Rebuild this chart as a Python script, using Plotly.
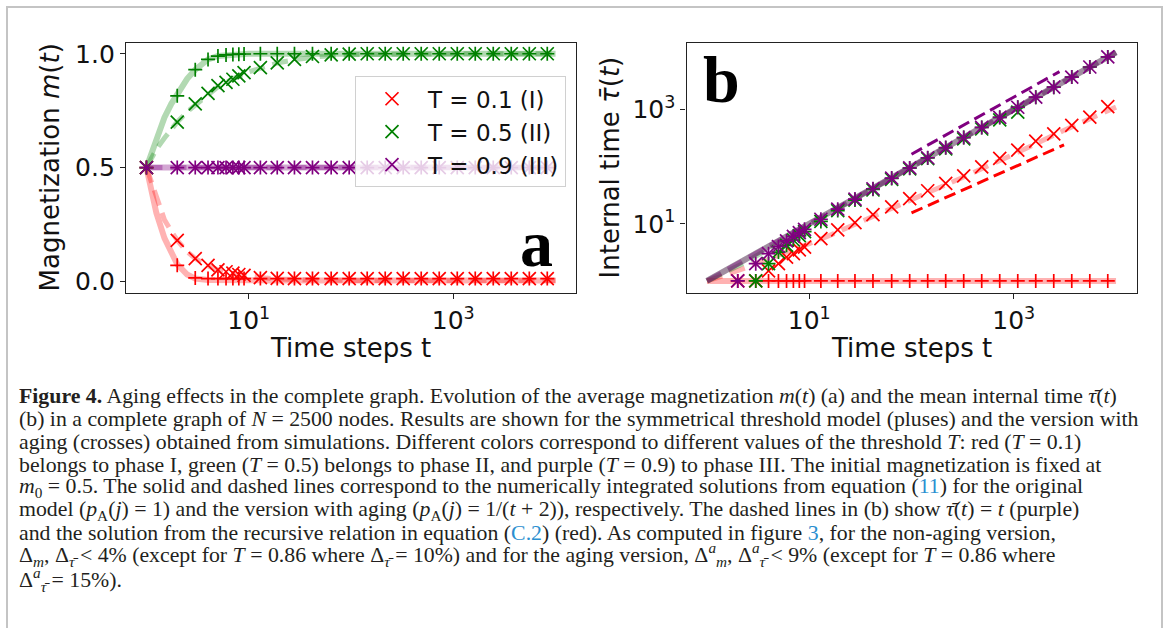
import plotly.graph_objects as go

W, H = 1167, 628

# ---------------- data ----------------
t_pts = [1, 2, 3, 4, 5, 6, 7, 8, 9, 13, 19, 28, 42, 64, 96, 144, 216, 324, 486,
         729, 1094, 1640, 2460, 3690, 5540, 8300]

# panel a: magnetization (simulations)
red_plus_a = [0.5, 0.07, 0.015, 0.012, 0.012, 0.012, 0.012, 0.012, 0.012, 0.012, 0.012, 0.012, 0.012,
              0.012, 0.012, 0.012, 0.012, 0.012, 0.012, 0.012, 0.012, 0.012, 0.012, 0.012, 0.012, 0.012]
red_cross_a = [0.5, 0.18, 0.10, 0.07, 0.05, 0.042, 0.036, 0.03, 0.026, 0.016, 0.013, 0.012, 0.012,
               0.012, 0.012, 0.012, 0.012, 0.012, 0.012, 0.012, 0.012, 0.012, 0.012, 0.012, 0.012, 0.012]
green_plus_a = [0.5, 0.815, 0.93, 0.975, 0.99, 0.995, 0.997, 0.998, 0.999, 1.0, 1.0, 1.0, 1.0,
                1.0, 1.0, 1.0, 1.0, 1.0, 1.0, 1.0, 1.0, 1.0, 1.0, 1.0, 1.0, 1.0]
green_cross_a = [0.5, 0.70, 0.78, 0.826, 0.86, 0.874, 0.888, 0.903, 0.917, 0.939, 0.96, 0.975, 0.988,
                 0.995, 0.998, 1.0, 1.0, 1.0, 1.0, 1.0, 1.0, 1.0, 1.0, 1.0, 1.0, 1.0]
purple_plus_a = [0.5, 0.5, 0.5, 0.5, 0.5, 0.5, 0.5, 0.5, 0.5, 0.5, 0.5, 0.5, 0.5,
                 0.5, 0.5, 0.5, 0.5, 0.5, 0.5, 0.5, 0.5, 0.5, 0.5, 0.5, 0.5, 0.5]
purple_cross_a = [0.5, 0.5, 0.5, 0.5, 0.5, 0.5, 0.5, 0.5, 0.5, 0.5, 0.5, 0.5, 0.5,
                  0.5, 0.5, 0.5, 0.5, 0.5, 0.5, 0.5, 0.5, 0.5, 0.5, 0.5, 0.5, 0.5]

# panel b: internal time (simulations)
red_plus_b = [None, 1, 1, 1, 1, 1, 1, 1, 1, 1, 1, 1, 1, 1, 1, 1, 1, 1, 1, 1, 1, 1, 1, 1, 1, 1]
red_cross_b = [None, 1, 1, 1.5, 2.0, 2.6, 3.0, 3.5, 3.9, 5.5, 7.8, 10.5, 14.5, 19.8, 27.5, 37.8,
               51, 69, 99, 139, 195, 280, 375, 525, 735, 1120]
green_plus_b = [None, None, 1, 2, 3.2, 4.2, 5.2, 6.2, 7.3, 11, 17, 26, 40, 62, 94, 142, 214, 322,
                484, 727, 1092, 1638, 2458, 3688, 5538, 8298]
green_cross_b = [None, None, 1, 2, 3.2, 4.2, 5.2, 6.2, 7.3, 11, 17, 26, 39, 60, 91, 138, 205, 305,
                 455, 660, 900, None, None, None, None, None]
purple_plus_b = [None, 1, 2, 3, 4, 5, 6, 7, 8, 12, 18, 27, 41, 63, 95, 143, 215, 323, 485, 728,
                 1093, 1639, 2459, 3689, 5539, 8299]
purple_cross_b = [None, 1, 2, 3, 4, 5, 6, 7, 8, 12, 18, 27, 41, 63, 95, 143, 215, 323, 485, 728,
                  1093, 1639, 2459, 3689, 5539, 8299]

# theory curves (numerical integration), solid = original, dashed = aging
t_line = [1, 1.25, 1.5, 1.75, 2, 2.5, 3, 4, 5, 7, 10, 15, 20, 30, 50, 100, 300, 1000, 3000, 10000]
red_solid_a = [0.5, 0.30, 0.19, 0.12, 0.075, 0.03, 0.012, 0.006, 0.005, 0.004, 0.004, 0.004, 0.004,
               0.004, 0.004, 0.004, 0.004, 0.004, 0.004, 0.004]
red_dash_a = [0.5, 0.37, 0.27, 0.22, 0.18, 0.13, 0.10, 0.068, 0.05, 0.033, 0.022, 0.014, 0.010,
              0.007, 0.005, 0.004, 0.004, 0.004, 0.004, 0.004]
green_solid_a = [0.5, 0.63, 0.72, 0.78, 0.825, 0.89, 0.93, 0.975, 0.99, 0.998, 1.0, 1.0, 1.0,
                 1.0, 1.0, 1.0, 1.0, 1.0, 1.0, 1.0]
green_dash_a = [0.5, 0.58, 0.63, 0.67, 0.70, 0.745, 0.775, 0.82, 0.855, 0.89, 0.92, 0.945, 0.962,
                0.976, 0.988, 0.996, 1.0, 1.0, 1.0, 1.0]
purple_solid_a = [0.5, 0.5, 0.5, 0.5, 0.5, 0.5, 0.5, 0.5, 0.5, 0.5, 0.5, 0.5, 0.5, 0.5, 0.5, 0.5,
                  0.5, 0.5, 0.5, 0.5]
purple_dash_a = [0.5, 0.5, 0.5, 0.5, 0.5, 0.5, 0.5, 0.5, 0.5, 0.5, 0.5, 0.5, 0.5, 0.5, 0.5, 0.5,
                 0.5, 0.5, 0.5, 0.5]

red_solid_b = [1, 1, 1, 1, 1, 1, 1, 1, 1, 1, 1, 1, 1, 1, 1, 1, 1, 1, 1, 1]
red_dash_b = [1, 1.1, 1.25, 1.4, 1.5, 1.75, 2.0, 2.4, 2.8, 3.5, 4.5, 6.0, 7.5, 10, 15, 26, 62,
              165, 420, 1100]
green_solid_b = [1, 1.25, 1.5, 1.75, 2, 2.5, 3, 4, 5, 7, 10, 15, 20, 30, 50, 100, 300, 1000, 3000, 10000]
green_dash_b = [1, 1.2, 1.4, 1.6, 1.8, 2.2, 2.7, 3.6, 4.6, 6.6, 9.5, 14.5, 19.5, 29, 49, 98, 295,
                980, 2950, 9900]
purple_solid_b = [1, 1.25, 1.5, 1.75, 2, 2.5, 3, 4, 5, 7, 10, 15, 20, 30, 50, 100, 300, 1000, 3000, 10000]
purple_dash_b = [1, 1.25, 1.5, 1.75, 2, 2.5, 3, 4, 5, 7, 10, 15, 20, 30, 50, 100, 300, 1000, 3000, 10000]

# guide lines in panel b
guide_purple_t = [100, 2800]
guide_purple_tau = [165, 4600]
guide_red_t = [100, 300, 1000, 3100]
guide_red_tau = [15.5, 37, 98, 240]

legend_labels = ["T = 0.1 (I)", "T = 0.5 (II)", "T = 0.9 (III)"]
colors = ["#ff0000", "#008000", "#800080"]
light = ["rgba(255,0,0,0.30)", "rgba(0,128,0,0.30)", "rgba(128,0,128,0.35)"]

# ---------------- figure ----------------
fig = go.Figure()

def line(x, y, color, xa, ya, dash=None, width=6):
    fig.add_trace(go.Scatter(x=x, y=y, mode="lines", xaxis=xa, yaxis=ya, showlegend=False,
                             hoverinfo="skip",
                             line=dict(color=color, width=width, dash=dash or "solid")))

def marks(x, y, color, xa, ya, symbol, size, name=None, legend=False, group=None):
    fig.add_trace(go.Scatter(x=x, y=y, mode="markers", xaxis=xa, yaxis=ya, name=name,
                             showlegend=legend, legendgroup=group,
                             marker=dict(symbol=symbol, size=size, color=color,
                                         line=dict(color=color, width=1.7))))

dash_l = "16px,8px"
sol_a = [red_solid_a, green_solid_a, purple_solid_a]
das_a = [red_dash_a, green_dash_a, purple_dash_a]
plus_a = [red_plus_a, green_plus_a, purple_plus_a]
cross_a = [red_cross_a, green_cross_a, purple_cross_a]
sol_b = [red_solid_b, green_solid_b, purple_solid_b]
das_b = [red_dash_b, green_dash_b, purple_dash_b]
plus_b = [red_plus_b, green_plus_b, purple_plus_b]
cross_b = [red_cross_b, green_cross_b, purple_cross_b]

for i in range(3):
    line(t_line, sol_a[i], light[i], "x", "y")
    line(t_line, das_a[i], light[i], "x", "y", dash=dash_l, width=5)
for i in range(3):
    line(t_line, sol_b[i], light[i], "x2", "y2")
    line(t_line, das_b[i], light[i], "x2", "y2", dash=dash_l, width=5)

line(guide_purple_t, guide_purple_tau, "#800080", "x2", "y2", dash="12px,6px", width=3)
line(guide_red_t, guide_red_tau, "#ff0000", "x2", "y2", dash="12px,6px", width=3)

for i in range(3):
    marks(t_pts, plus_a[i], colors[i], "x", "y", "cross-thin", 10)
    marks(t_pts, cross_a[i], colors[i], "x", "y", "x-thin", 13, name=legend_labels[i],
          legend=True, group="g%d" % i)
for i in range(3):
    marks(t_pts, plus_b[i], colors[i], "x2", "y2", "cross-thin", 10)
    marks(t_pts, cross_b[i], colors[i], "x2", "y2", "x-thin", 13)

tickfont = dict(family="DejaVu Sans", size=25, color="#111")
axis_common = dict(showgrid=False, zeroline=False, showline=True, mirror=True, linecolor="#222",
                   linewidth=1.3, ticks="outside", ticklen=5, tickwidth=1.2, tickcolor="#222",
                   tickfont=tickfont)

def px_x(p):
    return p / W

def px_y(p):
    return 1 - p / H

xdom_a = [px_x(126), px_x(576)]
xdom_b = [px_x(686.5), px_x(1136.5)]
ydom = [px_y(292.7), px_y(40)]

fig.update_layout(
    width=W, height=H, margin=dict(l=0, r=0, t=0, b=0),
    paper_bgcolor="white", plot_bgcolor="white",
    xaxis=dict(domain=xdom_a, type="log", range=[-0.2, 4.2], anchor="y",
               tickvals=[10, 1000], ticktext=["10<sup>1</sup>", "10<sup>3</sup>"], **axis_common),
    yaxis=dict(domain=ydom, range=[-0.051, 1.049], anchor="x",
               tickvals=[0, 0.5, 1.0], ticktext=["0.0", "0.5", "1.0"], **axis_common),
    xaxis2=dict(domain=xdom_b, type="log", range=[-0.2, 4.2], anchor="y2",
                tickvals=[10, 1000], ticktext=["10<sup>1</sup>", "10<sup>3</sup>"], **axis_common),
    yaxis2=dict(domain=ydom, type="log", range=[-0.21, 4.17], anchor="x2",
                tickvals=[10, 1000], ticktext=["10<sup>1</sup>", "10<sup>3</sup>"], **axis_common),
    legend=dict(x=px_x(355), y=px_y(74), xanchor="left", yanchor="top",
                bgcolor="rgba(255,255,255,0.8)", bordercolor="#d0d0d0", borderwidth=1,
                font=dict(family="DejaVu Sans", size=23, color="#111"),
                itemwidth=62, tracegroupgap=1, traceorder="normal"),
    showlegend=True,
)

ann = []
title_font = dict(family="DejaVu Sans", size=26, color="#111")
ann.append(dict(text="Magnetization <i>m</i>(<i>t</i>)", x=px_x(50), y=px_y(166), textangle=-90,
                font=title_font))
ann.append(dict(text="Internal time <i>τ̄</i>(<i>t</i>)", x=px_x(610), y=px_y(166), textangle=-90,
                font=title_font))
ann.append(dict(text="Time steps t", x=px_x(351), y=px_y(348), font=title_font))
ann.append(dict(text="Time steps t", x=px_x(911.5), y=px_y(348), font=title_font))
letter_font = dict(family="Liberation Serif", size=66, color="black")
ann.append(dict(text="<b>a</b>", x=px_x(536), y=px_y(243), font=letter_font))
ann.append(dict(text="<b>b</b>", x=px_x(721), y=px_y(77), font=letter_font))

blue = "#2b8fd0"
cap = [
    "<b>Figure 4.</b> Aging effects in the complete graph. Evolution of the average magnetization <i>m</i>(<i>t</i>) (a) and the mean internal time <i>τ̄</i>(<i>t</i>)",
    "(b) in a complete graph of <i>N</i> = 2500 nodes. Results are shown for the symmetrical threshold model (pluses) and the version with",
    "aging (crosses) obtained from simulations. Different colors correspond to different values of the threshold <i>T</i>: red (<i>T</i> = 0.1)",
    "belongs to phase I, green (<i>T</i> = 0.5) belongs to phase II, and purple (<i>T</i> = 0.9) to phase III. The initial magnetization is fixed at",
    "<i>m</i><sub>0</sub> = 0.5. The solid and dashed lines correspond to the numerically integrated solutions from equation (<span style='color:%s'>11</span>) for the original" % blue,
    "model (<i>p</i><sub>A</sub>(<i>j</i>) = 1) and the version with aging (<i>p</i><sub>A</sub>(<i>j</i>) = 1/(<i>t</i> + 2)), respectively. The dashed lines in (b) show <i>τ̄</i>(<i>t</i>) = <i>t</i> (purple)",
    "and the solution from the recursive relation in equation (<span style='color:%s'>C.2</span>) (red). As computed in figure <span style='color:%s'>3</span>, for the non-aging version," % (blue, blue),
    "Δ<sub><i>m</i></sub>, Δ<sub><i>τ̄</i></sub> &lt; 4% (except for <i>T</i> = 0.86 where Δ<sub><i>τ̄</i></sub> = 10%) and for the aging version, Δ<sup><i>a</i></sup><sub><i>m</i></sub>, Δ<sup><i>a</i></sup><sub><i>τ̄</i></sub> &lt; 9% (except for <i>T</i> = 0.86 where",
    "Δ<sup><i>a</i></sup><sub><i>τ̄</i></sub> = 15%).",
]
cap_y = [397, 420, 443, 466, 489, 512, 535, 557, 582]
cap_font = dict(family="Liberation Serif", size=21.8, color="#231f20")
for k, s in enumerate(cap):
    ann.append(dict(text=s, x=px_x(17), y=px_y(cap_y[k]), xanchor="left", yanchor="middle",
                    font=cap_font))

for a in ann:
    a.setdefault("xref", "paper")
    a.setdefault("yref", "paper")
    a.setdefault("showarrow", False)
    a.setdefault("xanchor", "center")
    a.setdefault("yanchor", "middle")
fig.update_layout(annotations=ann)

fig.add_shape(type="rect", xref="paper", yref="paper", x0=px_x(7), x1=px_x(1162),
              y0=px_y(4), y1=-0.2, line=dict(color="#c4c4c4", width=2), fillcolor="rgba(0,0,0,0)",
              layer="below")

fig.write_html("out.html")
